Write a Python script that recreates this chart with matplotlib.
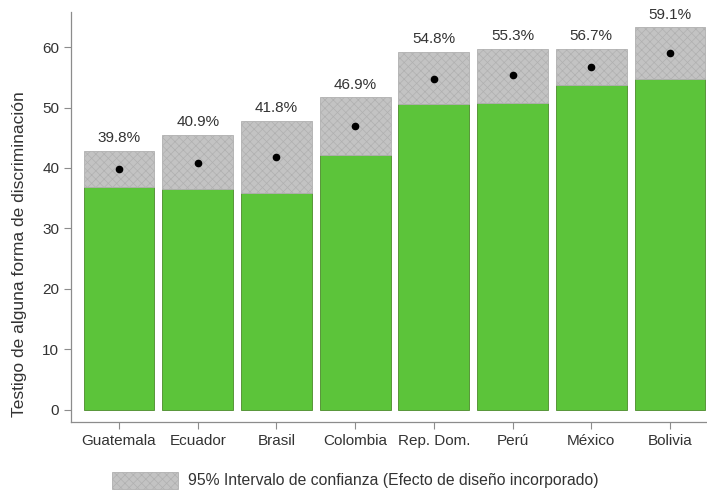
#!/usr/bin/env python3

"""Testigo de discriminación por país, con intervalo de confianza al 95%"""

import matplotlib.pyplot as plt
from matplotlib.patches import Patch

plt.rcParams["font.family"] = ["Liberation Sans", "DejaVu Sans"]
plt.rcParams["hatch.linewidth"] = 0.5

paises = ["Guatemala", "Ecuador", "Brasil", "Colombia", "Rep. Dom.", "Perú", "México", "Bolivia"]
promedio = [39.8, 40.9, 41.8, 46.9, 54.8, 55.3, 56.7, 59.1]
ic_inferior = [36.9, 36.5, 35.9, 42.1, 50.6, 50.7, 53.7, 54.7]
ic_superior = [42.8, 45.5, 47.8, 51.7, 59.2, 59.7, 59.7, 63.3]

TEXT = "#333333"
SPINE = "#8c8c8c"


def main():
    fig = plt.figure(figsize=(7.07, 4.9), dpi=100)
    ax = fig.add_axes([0.1004, 0.139, 0.8996, 0.8365])

    x = list(range(len(paises)))
    ancho_ic = [s - i for s, i in zip(ic_superior, ic_inferior)]

    ax.bar(x, ic_inferior, width=0.9, color="#5cc43a", edgecolor="#4a8a2a", linewidth=0.6, zorder=2)
    ax.bar(
        x, ancho_ic, bottom=ic_inferior, width=0.9, color="#c3c3c3",
        edgecolor="#b0b0b0", hatch="xxxx", linewidth=0.6, zorder=2,
    )
    ax.plot(x, promedio, "o", color="black", markersize=4.5, zorder=3)

    for xi, s, p in zip(x, ic_superior, promedio):
        ax.annotate(
            "{:.1f}%".format(p), (xi, s), xytext=(0, 4), textcoords="offset points",
            ha="center", va="bottom", fontsize=11, color=TEXT,
        )

    ax.set_xlim(-0.61, 7.47)
    ax.set_ylim(-2, 65.8)
    ax.set_yticks(range(0, 61, 10))
    ax.set_xticks(x)
    ax.set_xticklabels(paises)
    ax.tick_params(axis="both", colors=SPINE, labelcolor=TEXT, labelsize=11, length=5, width=0.8)
    ax.set_ylabel("Testigo de alguna forma de discriminación", fontsize=12.5, color=TEXT)
    ax.yaxis.set_label_coords(-0.069, 0.41)

    for side in ("top", "right"):
        ax.spines[side].set_visible(False)
    for side in ("left", "bottom"):
        ax.spines[side].set_color(SPINE)
        ax.spines[side].set_linewidth(0.9)

    handle = Patch(facecolor="#c3c3c3", edgecolor="#b0b0b0", hatch="xxxx", linewidth=0.6)
    fig.legend(
        handles=[handle], labels=["95% Intervalo de confianza (Efecto de diseño incorporado)"],
        loc="center left", bbox_to_anchor=(0.158, 0.02), frameon=False,
        handlelength=4.2, handleheight=1.3, handletextpad=0.65,
        fontsize=11.3, labelcolor=TEXT, borderaxespad=0, borderpad=0,
    )

    fig.savefig("out.png", dpi=100)


if __name__ == "__main__":
    main()
